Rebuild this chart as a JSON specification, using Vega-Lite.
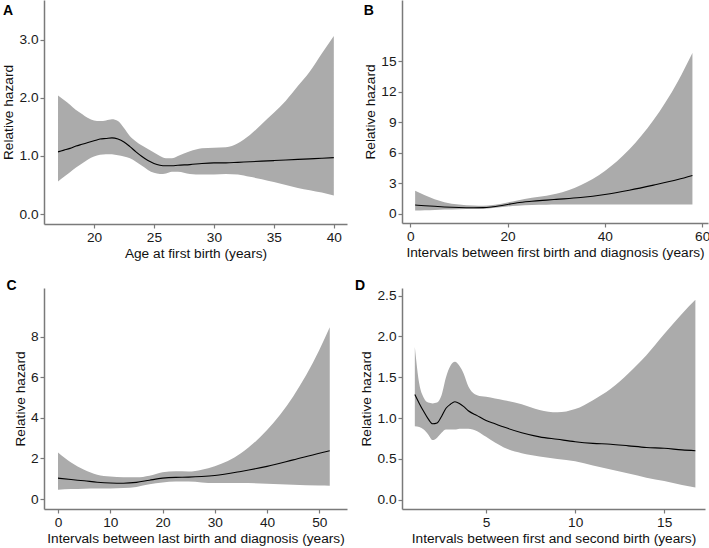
{
  "$schema": "https://vega.github.io/schema/vega-lite/v6.json",
  "padding": {"left": 1, "top": 0, "right": 0, "bottom": 0},
  "background": "white",
  "datasets": {
    "A": [
      {"x": 17, "lo": 0.56, "hi": 2.04, "est": 1.07},
      {"x": 17.5, "lo": 0.64, "hi": 1.96, "est": 1.10},
      {"x": 18, "lo": 0.72, "hi": 1.88, "est": 1.13},
      {"x": 18.5, "lo": 0.80, "hi": 1.79, "est": 1.17},
      {"x": 19, "lo": 0.87, "hi": 1.72, "est": 1.20},
      {"x": 19.5, "lo": 0.94, "hi": 1.65, "est": 1.23},
      {"x": 20, "lo": 0.99, "hi": 1.61, "est": 1.26},
      {"x": 20.5, "lo": 1.02, "hi": 1.60, "est": 1.29},
      {"x": 21, "lo": 1.03, "hi": 1.61, "est": 1.30},
      {"x": 21.5, "lo": 1.03, "hi": 1.63, "est": 1.31},
      {"x": 22, "lo": 1.01, "hi": 1.60, "est": 1.29},
      {"x": 22.5, "lo": 0.99, "hi": 1.48, "est": 1.24},
      {"x": 23, "lo": 0.96, "hi": 1.34, "est": 1.16},
      {"x": 23.5, "lo": 0.90, "hi": 1.25, "est": 1.07},
      {"x": 24, "lo": 0.83, "hi": 1.18, "est": 0.99},
      {"x": 24.5, "lo": 0.76, "hi": 1.12, "est": 0.92},
      {"x": 25, "lo": 0.71, "hi": 1.06, "est": 0.87},
      {"x": 25.5, "lo": 0.69, "hi": 1.00, "est": 0.84},
      {"x": 26, "lo": 0.70, "hi": 0.96, "est": 0.83},
      {"x": 26.5, "lo": 0.73, "hi": 0.96, "est": 0.83},
      {"x": 27, "lo": 0.73, "hi": 1.00, "est": 0.84},
      {"x": 28, "lo": 0.69, "hi": 1.08, "est": 0.85},
      {"x": 29, "lo": 0.68, "hi": 1.13, "est": 0.87},
      {"x": 30, "lo": 0.68, "hi": 1.14, "est": 0.88},
      {"x": 31, "lo": 0.69, "hi": 1.15, "est": 0.88},
      {"x": 32, "lo": 0.68, "hi": 1.22, "est": 0.89},
      {"x": 33, "lo": 0.64, "hi": 1.36, "est": 0.90},
      {"x": 34, "lo": 0.60, "hi": 1.55, "est": 0.91},
      {"x": 35, "lo": 0.55, "hi": 1.74, "est": 0.92},
      {"x": 36, "lo": 0.50, "hi": 1.95, "est": 0.93},
      {"x": 37, "lo": 0.45, "hi": 2.20, "est": 0.94},
      {"x": 38, "lo": 0.41, "hi": 2.45, "est": 0.95},
      {"x": 39, "lo": 0.37, "hi": 2.76, "est": 0.96},
      {"x": 40, "lo": 0.32, "hi": 3.06, "est": 0.97}
    ],
    "B": [
      {"x": 1, "lo": 0.30, "hi": 2.25, "est": 0.85},
      {"x": 3, "lo": 0.33, "hi": 1.80, "est": 0.78},
      {"x": 5, "lo": 0.37, "hi": 1.42, "est": 0.72},
      {"x": 7, "lo": 0.40, "hi": 1.13, "est": 0.66},
      {"x": 10, "lo": 0.43, "hi": 0.90, "est": 0.60},
      {"x": 13, "lo": 0.45, "hi": 0.80, "est": 0.58},
      {"x": 15, "lo": 0.47, "hi": 0.78, "est": 0.59},
      {"x": 17, "lo": 0.55, "hi": 0.85, "est": 0.68},
      {"x": 20, "lo": 0.70, "hi": 1.10, "est": 0.90},
      {"x": 22, "lo": 0.78, "hi": 1.30, "est": 1.07},
      {"x": 25, "lo": 0.85, "hi": 1.55, "est": 1.22},
      {"x": 28, "lo": 0.88, "hi": 1.75, "est": 1.33},
      {"x": 30, "lo": 0.89, "hi": 1.95, "est": 1.40},
      {"x": 35, "lo": 0.89, "hi": 2.80, "est": 1.58},
      {"x": 40, "lo": 0.89, "hi": 4.20, "est": 1.88},
      {"x": 45, "lo": 0.89, "hi": 6.30, "est": 2.30},
      {"x": 50, "lo": 0.89, "hi": 9.20, "est": 2.80},
      {"x": 55, "lo": 0.89, "hi": 13.0, "est": 3.35},
      {"x": 58, "lo": 0.89, "hi": 15.8, "est": 3.75}
    ],
    "C": [
      {"x": 0, "lo": 0.46, "hi": 2.30, "est": 1.03},
      {"x": 2.5, "lo": 0.49, "hi": 1.80, "est": 0.96},
      {"x": 5, "lo": 0.51, "hi": 1.44, "est": 0.90},
      {"x": 7.5, "lo": 0.52, "hi": 1.20, "est": 0.83},
      {"x": 10, "lo": 0.52, "hi": 1.11, "est": 0.79},
      {"x": 12.5, "lo": 0.54, "hi": 1.08, "est": 0.78},
      {"x": 15, "lo": 0.60, "hi": 1.07, "est": 0.82},
      {"x": 17.5, "lo": 0.73, "hi": 1.15, "est": 0.93},
      {"x": 20, "lo": 0.82, "hi": 1.32, "est": 1.03},
      {"x": 22.5, "lo": 0.86, "hi": 1.37, "est": 1.07},
      {"x": 25, "lo": 0.86, "hi": 1.36, "est": 1.08},
      {"x": 27.5, "lo": 0.82, "hi": 1.45, "est": 1.11},
      {"x": 30, "lo": 0.79, "hi": 1.62, "est": 1.16},
      {"x": 35, "lo": 0.79, "hi": 2.26, "est": 1.36},
      {"x": 40, "lo": 0.76, "hi": 3.40, "est": 1.61},
      {"x": 45, "lo": 0.71, "hi": 5.05, "est": 1.93},
      {"x": 50, "lo": 0.67, "hi": 7.34, "est": 2.26},
      {"x": 52, "lo": 0.66, "hi": 8.46, "est": 2.38}
    ],
    "D": [
      {"x": 1.0, "lo": 0.90, "hi": 1.87, "est": 1.29},
      {"x": 1.25, "lo": 0.89, "hi": 1.42, "est": 1.18},
      {"x": 1.5, "lo": 0.86, "hi": 1.25, "est": 1.08},
      {"x": 1.75, "lo": 0.80, "hi": 1.19, "est": 0.99},
      {"x": 2.0, "lo": 0.73, "hi": 1.18, "est": 0.93},
      {"x": 2.25, "lo": 0.76, "hi": 1.19, "est": 0.94},
      {"x": 2.5, "lo": 0.82, "hi": 1.28, "est": 1.02},
      {"x": 2.75, "lo": 0.86, "hi": 1.50, "est": 1.12},
      {"x": 3.0, "lo": 0.86, "hi": 1.64, "est": 1.17},
      {"x": 3.25, "lo": 0.86, "hi": 1.69, "est": 1.20},
      {"x": 3.5, "lo": 0.87, "hi": 1.64, "est": 1.18},
      {"x": 3.75, "lo": 0.87, "hi": 1.54, "est": 1.14},
      {"x": 4.0, "lo": 0.87, "hi": 1.39, "est": 1.09},
      {"x": 4.5, "lo": 0.84, "hi": 1.28, "est": 1.03},
      {"x": 5.0, "lo": 0.77, "hi": 1.26, "est": 0.97},
      {"x": 5.5, "lo": 0.70, "hi": 1.24, "est": 0.93},
      {"x": 6.0, "lo": 0.64, "hi": 1.22, "est": 0.89},
      {"x": 7.0, "lo": 0.57, "hi": 1.17, "est": 0.82},
      {"x": 8.0, "lo": 0.53, "hi": 1.10, "est": 0.77},
      {"x": 9.0, "lo": 0.50, "hi": 1.07, "est": 0.74},
      {"x": 10.0, "lo": 0.47, "hi": 1.11, "est": 0.71},
      {"x": 11.0, "lo": 0.42, "hi": 1.22, "est": 0.69},
      {"x": 12.0, "lo": 0.37, "hi": 1.36, "est": 0.68},
      {"x": 13.0, "lo": 0.32, "hi": 1.55, "est": 0.66},
      {"x": 14.0, "lo": 0.27, "hi": 1.77, "est": 0.64},
      {"x": 15.0, "lo": 0.23, "hi": 2.03, "est": 0.63},
      {"x": 16.0, "lo": 0.18, "hi": 2.28, "est": 0.61},
      {"x": 16.75, "lo": 0.15, "hi": 2.45, "est": 0.60}
    ]
  },
  "columns": 2,
  "spacing": {"column": 7, "row": 18},
  "concat": [
    {
      "title": {"text": "A", "offset": -18, "dx": 1},
      "width": 303, "height": 224,
      "data": {"name": "A"},
      "encoding": {
        "x": {"field": "x", "type": "quantitative", "scale": {"domain": [15.83, 41.1], "nice": false, "zero": false},
              "axis": {"values": [20, 25, 30, 35, 40], "title": "Age at first birth (years)"}}
      },
      "layer": [
        {"mark": {"type": "area", "color": "#ababab", "opacity": 1, "interpolate": "monotone"},
         "encoding": {
           "y": {"field": "lo", "type": "quantitative", "scale": {"domain": [-0.17, 3.68], "nice": false, "zero": false},
                 "axis": {"values": [0, 0.5, 1, 1.5, 2, 2.5, 3], "format": ".1f", "title": "Relative hazard"}},
           "y2": {"field": "hi"}}},
        {"mark": {"type": "line", "color": "black", "strokeWidth": 1.1, "interpolate": "monotone"},
         "encoding": {"y": {"field": "est", "type": "quantitative"}}}
      ]
    },
    {
      "title": {"text": "B", "offset": -18},
      "width": 306, "height": 223,
      "data": {"name": "B"},
      "encoding": {
        "x": {"field": "x", "type": "quantitative", "scale": {"domain": [-1.7, 61.2], "nice": false, "zero": false},
              "axis": {"values": [0, 20, 40, 60], "title": "Intervals between first birth and diagnosis (years)"}}
      },
      "layer": [
        {"mark": {"type": "area", "color": "#ababab", "opacity": 1, "interpolate": "monotone"},
         "encoding": {
           "y": {"field": "lo", "type": "quantitative", "scale": {"domain": [-0.92, 21.0], "nice": false, "zero": false},
                 "axis": {"values": [0, 3, 6, 9, 12, 15], "title": "Relative hazard"}},
           "y2": {"field": "hi"}}},
        {"mark": {"type": "line", "color": "black", "strokeWidth": 1.1, "interpolate": "monotone"},
         "encoding": {"y": {"field": "est", "type": "quantitative"}}}
      ]
    },
    {
      "title": {"text": "C", "offset": -5, "dx": -7},
      "width": 303, "height": 221,
      "data": {"name": "C"},
      "encoding": {
        "x": {"field": "x", "type": "quantitative", "scale": {"domain": [-2.68, 55.3], "nice": false, "zero": false},
              "axis": {"values": [0, 10, 20, 30, 40, 50], "title": "Intervals between last birth and diagnosis (years)"}}
      },
      "layer": [
        {"mark": {"type": "area", "color": "#ababab", "opacity": 1, "interpolate": "monotone"},
         "encoding": {
           "y": {"field": "lo", "type": "quantitative", "scale": {"domain": [-0.49, 10.4], "nice": false, "zero": false},
                 "axis": {"values": [0, 2, 4, 6, 8], "title": "Relative hazard"}},
           "y2": {"field": "hi"}}},
        {"mark": {"type": "line", "color": "black", "strokeWidth": 1.1, "interpolate": "monotone"},
         "encoding": {"y": {"field": "est", "type": "quantitative"}}}
      ]
    },
    {
      "title": {"text": "D", "offset": -5, "dx": -5},
      "width": 303, "height": 221,
      "data": {"name": "D"},
      "encoding": {
        "x": {"field": "x", "type": "quantitative", "scale": {"domain": [0.28, 17.29], "nice": false, "zero": false},
              "axis": {"values": [5, 10, 15], "title": "Intervals between first and second birth (years)"}}
      },
      "layer": [
        {"mark": {"type": "area", "color": "#ababab", "opacity": 1, "interpolate": "monotone"},
         "encoding": {
           "y": {"field": "lo", "type": "quantitative", "scale": {"domain": [-0.114, 2.594], "nice": false, "zero": false},
                 "axis": {"values": [0, 0.5, 1, 1.5, 2, 2.5], "format": ".1f", "title": "Relative hazard"}},
           "y2": {"field": "hi"}}},
        {"mark": {"type": "line", "color": "black", "strokeWidth": 1.1, "interpolate": "monotone"},
         "encoding": {"y": {"field": "est", "type": "quantitative"}}}
      ]
    }
  ],
  "config": {
    "view": {"stroke": null},
    "font": "Liberation Sans",
    "axis": {
      "grid": false,
      "domainColor": "#7a7a7a", "domainWidth": 1.5,
      "tickColor": "#7a7a7a", "tickWidth": 1.2, "tickSize": 4,
      "labelFont": "Liberation Sans", "labelFontSize": 13.7, "labelColor": "#1a1a1a",
      "labelPadding": 2, "labelFlush": false, "labelOverlap": false,
      "titleFont": "Liberation Sans", "titleFontSize": 13.7, "titleFontWeight": "normal", "titleColor": "#111111",
      "titlePadding": 3
    },
    "title": {"font": "Liberation Sans", "fontSize": 14, "fontWeight": "bold", "color": "black",
              "anchor": "start", "frame": "bounds"}
  }
}
